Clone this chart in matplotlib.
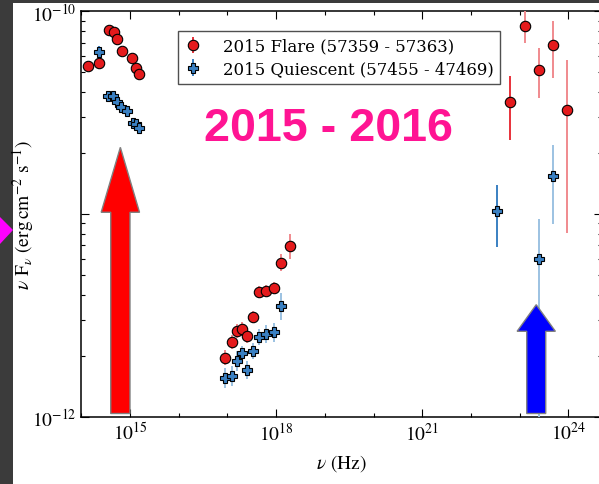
import numpy as np
import matplotlib
matplotlib.use("Agg")
import matplotlib.pyplot as plt
from matplotlib.patches import Rectangle, Polygon, FancyArrow
from matplotlib.ticker import FixedLocator, LogLocator, NullFormatter, FuncFormatter

plt.rcParams["mathtext.fontset"] = "stix"
plt.rcParams["font.family"] = ["STIXGeneral", "DejaVu Serif"]

# ---------------- data (log10 nu [Hz], log10 nuFnu [erg cm^-2 s^-1]) ----------------
legend_labels = ["2015 Flare (57359 - 57363)", "2015 Quiescent (57455 - 47469)"]

# optical / UV
opt_flare_lognu = [14.131, 14.370, 14.565, 14.665, 14.739, 14.836, 15.051, 15.119, 15.189]
opt_flare_logf = [-10.271, -10.253, -10.093, -10.103, -10.136, -10.196, -10.229, -10.277, -10.310]
opt_flare_err = [0.01, 0.01, 0.01, 0.01, 0.01, 0.01, 0.01, 0.01, 0.01]

opt_quiet_lognu = [14.370, 14.554, 14.651, 14.727, 14.825, 14.932, 15.057, 15.127, 15.191]
opt_quiet_logf = [-10.202, -10.416, -10.420, -10.449, -10.474, -10.494, -10.552, -10.557, -10.577]
opt_quiet_err = [0.03, 0.01, 0.01, 0.01, 0.01, 0.01, 0.01, 0.01, 0.01]

# X-ray
xr_flare_lognu = [16.955, 17.101, 17.201, 17.306, 17.398, 17.519, 17.653, 17.789, 17.953, 18.101, 18.281]
xr_flare_logf = [-11.711, -11.633, -11.579, -11.568, -11.603, -11.509, -11.384, -11.381, -11.366, -11.241, -11.160]
xr_flare_err = [0.037, 0.035, 0.035, 0.035, 0.035, 0.03, 0.03, 0.03, 0.03, 0.043, 0.061]

xr_quiet_lognu = [16.951, 17.101, 17.203, 17.304, 17.396, 17.532, 17.655, 17.786, 17.957, 18.105]
xr_quiet_logf = [-11.808, -11.800, -11.726, -11.688, -11.772, -11.677, -11.607, -11.594, -11.584, -11.456]
xr_quiet_err = [0.049, 0.05, 0.05, 0.037, 0.045, 0.04, 0.041, 0.045, 0.047, 0.066]

# gamma rays: integrated bin
ga_flare_lognu = [22.809]
ga_flare_logf = [-10.449]
ga_flare_lo = [-10.633]
ga_flare_hi = [-10.320]

ga_quiet_lognu = [22.530]
ga_quiet_logf = [-10.985]
ga_quiet_lo = [-11.165]
ga_quiet_hi = [-10.857]

# gamma rays: spectral bins
gb_flare_lognu = [23.105, 23.392, 23.680, 23.967]
gb_flare_logf = [-10.071, -10.288, -10.166, -10.485]
gb_flare_lo = [-10.156, -10.429, -10.330, -11.096]
gb_flare_hi = [-9.985, -10.182, -10.049, -10.241]

gb_quiet_lognu = [23.392, 23.686]
gb_quiet_logf = [-11.220, -10.813]
gb_quiet_lo = [-12.300, -11.051]
gb_quiet_hi = [-11.025, -10.660]

# ---------------- colours ----------------
RED = "#e41a1c"
BLUE = "#3a80c2"
RED_BAR = "#e8313a"
BLUE_BAR = "#3a80c2"
RED_PALE = "#f08a8e"
BLUE_PALE = "#9cc2e2"

W, H = 599, 485
fig = plt.figure(figsize=(W / 100, H / 100), dpi=100)
fig.patch.set_facecolor("#3b3b3b")
fig.add_artist(Rectangle((13 / W, 0), 1, 1 - 4 / H, transform=fig.transFigure,
                         facecolor="white", edgecolor="none", zorder=-1))
fig.add_artist(Polygon([(0, 1 - 218 / H), (13 / W, 1 - 231 / H), (0, 1 - 245 / H)],
                       closed=True, transform=fig.transFigure,
                       facecolor="#ff00ff", edgecolor="none", zorder=-1))

ax = fig.add_axes([81.3 / W, 1 - 417.5 / H, (602 - 81.3) / W, (417.5 - 12.4) / H])
ax.set_xscale("log")
ax.set_yscale("log")
ax.set_xlim(1e14, 10 ** 24.69)
ax.set_ylim(1e-12, 1e-10)


def sym(lognu, logf, err, color, ecolor, marker, label=None):
    nu = 10 ** np.asarray(lognu)
    f = 10 ** np.asarray(logf)
    e = np.asarray(err)
    yerr = [f - f * 10 ** (-e), f * 10 ** e - f]
    return ax.errorbar(nu, f, yerr=yerr, fmt=marker, color=color, mfc=color, mec="black",
                       mew=0.8, ms=7.5, ecolor=ecolor, elinewidth=1.4, capsize=0,
                       zorder=3, label=label)


def asym(lognu, logf, lo, hi, color, ecolor, marker, label=None):
    nu = 10 ** np.asarray(lognu)
    f = 10 ** np.asarray(logf)
    yerr = [f - 10 ** np.asarray(lo), 10 ** np.asarray(hi) - f]
    return ax.errorbar(nu, f, yerr=yerr, fmt=marker, color=color, mfc=color, mec="black",
                       mew=0.8, ms=7.5, ecolor=ecolor, elinewidth=1.4, capsize=0,
                       zorder=3, label=label)


h_flare = asym(ga_flare_lognu, ga_flare_logf, ga_flare_lo, ga_flare_hi, RED, RED_BAR, "o")
h_quiet = asym(ga_quiet_lognu, ga_quiet_logf, ga_quiet_lo, ga_quiet_hi, BLUE, BLUE_BAR, "P")
asym(gb_flare_lognu, gb_flare_logf, gb_flare_lo, gb_flare_hi, RED, RED_PALE, "o")
asym(gb_quiet_lognu, gb_quiet_logf, gb_quiet_lo, gb_quiet_hi, BLUE, BLUE_PALE, "P")
sym(xr_flare_lognu, xr_flare_logf, xr_flare_err, RED, RED_PALE, "o")
sym(xr_quiet_lognu, xr_quiet_logf, xr_quiet_err, BLUE, BLUE_PALE, "P")
sym(opt_flare_lognu, opt_flare_logf, opt_flare_err, RED, RED_PALE, "o")
sym(opt_quiet_lognu, opt_quiet_logf, opt_quiet_err, BLUE, BLUE_BAR, "P")

# arrows marking the optical and gamma-ray bands
ax.add_patch(FancyArrow(0.0750, 0.0074, 0, 0.6571, width=0.037, head_width=0.0736,
                        head_length=0.1604, length_includes_head=True,
                        transform=ax.transAxes, facecolor="#ff0000",
                        edgecolor="#808080", linewidth=1.0, zorder=4))
ax.add_patch(FancyArrow(0.8737, 0.0074, 0, 0.2686, width=0.0365, head_width=0.0735,
                        head_length=0.0657, length_includes_head=True,
                        transform=ax.transAxes, facecolor="#0000ff",
                        edgecolor="#808080", linewidth=1.0, zorder=4))

# ticks
ax.xaxis.set_major_locator(FixedLocator([1e15, 1e18, 1e21, 1e24]))
ax.xaxis.set_minor_locator(FixedLocator([10.0 ** k for k in range(14, 25) if k % 3 != 0]))
ax.xaxis.set_minor_formatter(NullFormatter())
ax.xaxis.set_major_formatter(FuncFormatter(lambda v, p: r"$10^{%d}$" % round(np.log10(v))))
ax.yaxis.set_major_locator(FixedLocator([1e-12, 1e-11, 1e-10]))
ax.yaxis.set_minor_locator(LogLocator(base=10, subs=range(2, 10)))
ax.yaxis.set_minor_formatter(NullFormatter())
ax.yaxis.set_major_formatter(FuncFormatter(
    lambda v, p: "" if round(np.log10(v)) == -11 else r"$10^{%d}$" % round(np.log10(v))))
ax.tick_params(which="both", direction="in", top=True, right=True, labelsize=14, width=0.8)
ax.tick_params(which="major", length=6)
ax.tick_params(which="minor", length=3)
for s in ax.spines.values():
    s.set_linewidth(1.1)

ax.set_xlabel(r"$\nu$ (Hz)", fontsize=14, labelpad=6)
ax.set_ylabel(r"$\nu$ F$_\nu$ (erg$\,$cm$^{-2}$ s$^{-1}$)", fontsize=14)
ax.yaxis.set_label_coords(-0.087, 0.5)

ax.legend([h_flare, h_quiet], legend_labels, loc="upper left",
          bbox_to_anchor=(0.1857, 0.9516), borderaxespad=0, fancybox=False,
          edgecolor="#505050", framealpha=1,
          prop={"family": "DejaVu Serif", "size": 11.9},
          handlelength=1.0, handletextpad=1.3, borderpad=0.4, labelspacing=0.35)

fig.text(328.3 / W, 1 - 141 / H, "2015 - 2016", fontsize=33.6, fontweight="bold",
         family="Liberation Sans", color="#ff1493", ha="center", va="baseline")

fig.savefig("out.png", dpi=100, facecolor=fig.get_facecolor())
